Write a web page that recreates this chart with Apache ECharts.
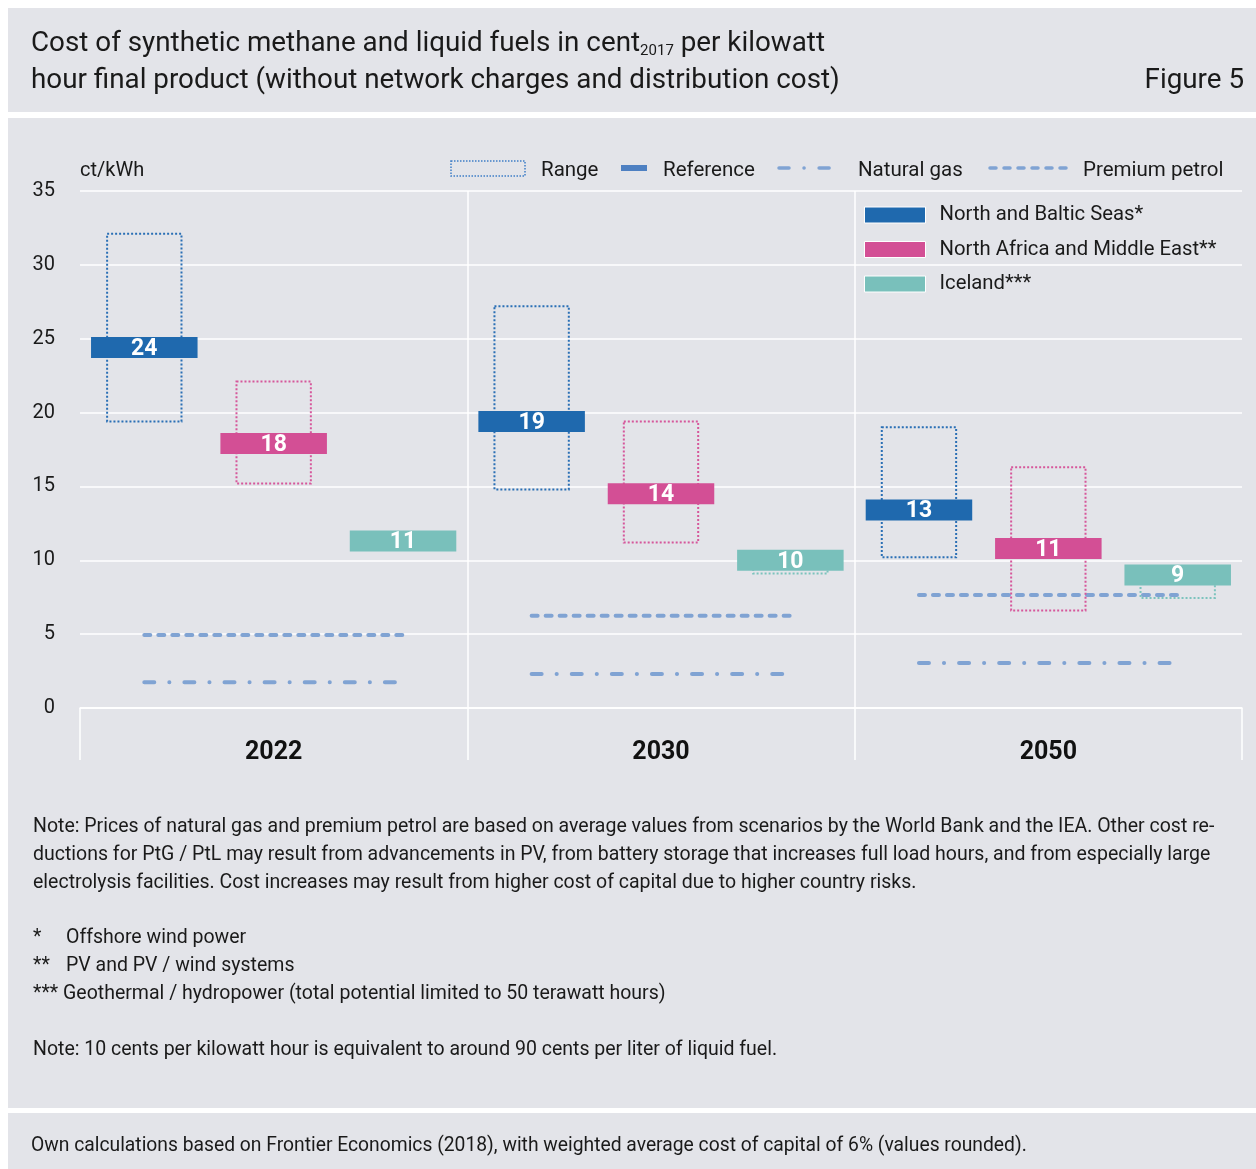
<!DOCTYPE html>
<html>
<head>
<meta charset="utf-8">
<script src="https://cdn.jsdelivr.net/npm/echarts@6/dist/echarts.min.js"></script>
<style>
  html, body { margin: 0; padding: 0; background: #fff; }
  .panel { position: absolute; background: #e3e4e9; }
  #main { position: absolute; left: 0; top: 0; width: 1256px; height: 1169px; }
</style>
</head>
<body>
<div class="panel" style="left:8px;top:8px;width:1248px;height:104px"></div>
<div class="panel" style="left:8px;top:118px;width:1248px;height:990px"></div>
<div class="panel" style="left:8px;top:1113px;width:1248px;height:56px"></div>
<div id="main"></div>
<script>
// data
var years = ['2022', '2030', '2050'];
var yTicks = [0, 5, 10, 15, 20, 25, 30, 35];

var northRef = [24.4, 19.4, 13.4];
var northLow = [19.4, 14.8, 10.2];
var northHigh = [32.1, 27.2, 19.0];
var northLabel = ['24', '19', '13'];

var menaRef = [17.9, 14.5, 10.8];
var menaLow = [15.2, 11.2, 6.6];
var menaHigh = [22.1, 19.4, 16.3];
var menaLabel = ['18', '14', '11'];

var icelandRef = [11.3, 10.0, 9.0];
var icelandLow = [10.9, 9.1, 7.45];
var icelandHigh = [11.7, 10.5, 9.5];
var icelandLabel = ['11', '10', '9'];

var petrol = [4.95, 6.25, 7.65];
var gas = [1.75, 2.3, 3.05];

var FONT = 'Roboto, "Noto Sans", sans-serif';
var lineColor = '#80a3d3';
var SLOT = 0.334;

var chart = echarts.init(document.getElementById('main'), null, { renderer: 'canvas' });

function regionSeries(name, color, rangeColor, slot, ref, low, high, labels) {
  return {
    name: name,
    type: 'custom',
    itemStyle: { color: color },
    data: years.map(function (y, i) { return [i, ref[i], low[i], high[i]]; }),
    encode: { x: 0, y: [1, 2, 3] },
    z: 5,
    renderItem: function (params, api) {
      var i = api.value(0);
      var c = api.coord([i, api.value(1)]);
      var bw = api.size([1, 0])[0];
      var cx = c[0] + slot * SLOT * bw;
      var yl = api.coord([i, api.value(2)])[1];
      var yh = api.coord([i, api.value(3)])[1];
      var rw = 0.192 * bw, barW = 0.275 * bw, barH = 21;
      return {
        type: 'group',
        children: [
          { type: 'rect', shape: { x: cx - rw / 2, y: yh, width: rw, height: yl - yh },
            style: { fill: 'none', stroke: rangeColor, lineWidth: 2, lineDash: [2, 2] } },
          { type: 'rect', shape: { x: cx - barW / 2, y: c[1] - barH / 2, width: barW, height: barH },
            style: { fill: color } },
          { type: 'text', x: cx, y: c[1] + 1.5,
            style: { text: labels[params.dataIndex], align: 'center', verticalAlign: 'middle',
              fill: '#fff', font: 'bold 23px ' + FONT } }
        ]
      };
    }
  };
}

function priceSeries(name, values, dash) {
  return {
    name: name,
    type: 'custom',
    z: 3,
    data: years.map(function (y, i) { return [i, values[i]]; }),
    encode: { x: 0, y: 1 },
    renderItem: function (params, api) {
      var i = api.value(0);
      var c = api.coord([i, api.value(1)]);
      var bw = api.size([1, 0])[0];
      return {
        type: 'line',
        shape: { x1: c[0] - SLOT * bw, y1: c[1], x2: c[0] + SLOT * bw, y2: c[1] },
        style: { stroke: lineColor, lineWidth: 4, lineDash: dash, lineCap: 'round' }
      };
    }
  };
}

var gasDash = [10, 15, 0.1, 15];
var petrolDash = [6, 8];

function txt(x, y, s, size, extra) {
  var o = { type: 'text', x: x, y: y + 1.5,
    style: { text: s, fill: '#1a1a1a', font: (size || 18) + 'px ' + FONT, verticalAlign: 'middle' } };
  if (extra) for (var k in extra) o.style[k] = extra[k];
  return o;
}

var notes = [
  'Note: Prices of natural gas and premium petrol are based on average values from scenarios by the World Bank and the IEA. Other cost re-',
  'ductions for PtG / PtL may result from advancements in PV, from battery storage that increases full load hours, and from especially large',
  'electrolysis facilities. Cost increases may result from higher cost of capital due to higher country risks.'
];

var graphics = [
  {
    type: 'text', x: 31, y: 44.5,
    style: {
      text: 'Cost of synthetic methane and liquid fuels in cent{sub|2017} per kilowatt',
      font: '27.8px ' + FONT, fill: '#1a1a1a', verticalAlign: 'middle',
      rich: { sub: { fontSize: 15, fontFamily: FONT, verticalAlign: 'bottom', lineHeight: 14, fill: '#1a1a1a' } }
    }
  },
  txt(31, 80, 'hour final product (without network charges and distribution cost)', 27.8),
  txt(1244, 80, 'Figure 5', 27.8, { align: 'right' }),
  // top legend
  { type: 'rect', shape: { x: 451, y: 161, width: 74, height: 15 },
    style: { fill: 'none', stroke: '#3f7dc6', lineWidth: 1.5, lineDash: [1.5, 1.5] } },
  txt(541, 169, 'Range', 20.5),
  { type: 'rect', shape: { x: 621, y: 165, width: 26, height: 6 }, style: { fill: '#4e80c2' } },
  txt(663, 169, 'Reference', 20.5),
  { type: 'line', shape: { x1: 779, y1: 168, x2: 843, y2: 168 },
    style: { stroke: lineColor, lineWidth: 3.5, lineDash: gasDash, lineCap: 'round' } },
  txt(858, 169, 'Natural gas', 20.5),
  { type: 'line', shape: { x1: 990, y1: 168, x2: 1066, y2: 168 },
    style: { stroke: lineColor, lineWidth: 3.5, lineDash: petrolDash, lineCap: 'round' } },
  txt(1083, 169, 'Premium petrol', 20.5),
  // notes
  txt(33, 826, notes[0], 19.5),
  txt(33, 854, notes[1], 19.5),
  txt(33, 882, notes[2], 19.5),
  txt(33, 937, '*', 19.5),
  txt(66, 937, 'Offshore wind power', 19.5),
  txt(33, 965, '**', 19.5),
  txt(66, 965, 'PV and PV / wind systems', 19.5),
  txt(33, 993, '*** Geothermal / hydropower (total potential limited to 50 terawatt hours)', 19.5),
  txt(33, 1049, 'Note: 10 cents per kilowatt hour is equivalent to around 90 cents per liter of liquid fuel.', 19.5),
  txt(31, 1145, 'Own calculations based on Frontier Economics (2018), with weighted average cost of capital of 6% (values rounded).', 19.3)
];

var option = {
  backgroundColor: 'transparent',
  animation: false,
  textStyle: { fontFamily: FONT },
  grid: { left: 80, right: 14, top: 191, height: 517 },
  legend: {
    data: ['North and Baltic Seas*', 'North Africa and Middle East**', 'Iceland***'],
    orient: 'vertical',
    left: 864, top: 205,
    itemWidth: 61, itemHeight: 16, itemGap: 14.5,
    icon: 'rect',
    padding: 0,
    itemStyle: { borderColor: '#fff', borderWidth: 1 },
    textStyle: { fontSize: 20.3, color: '#1a1a1a', fontFamily: FONT, padding: [2, 0, 0, 9] },
    selectedMode: false
  },
  xAxis: {
    type: 'category',
    data: years,
    boundaryGap: true,
    axisLine: { show: true, lineStyle: { color: '#fff', width: 1.5 } },
    axisTick: { show: true, length: 52, lineStyle: { color: '#fff', width: 1.5 } },
    axisLabel: { fontSize: 25, fontWeight: 'bold', color: '#111', margin: 32, fontFamily: FONT },
    splitLine: { show: true, showMinLine: false, showMaxLine: false, lineStyle: { color: '#fff', width: 1.5 } }
  },
  yAxis: {
    type: 'value',
    min: yTicks[0],
    max: yTicks[yTicks.length - 1],
    interval: 5,
    name: 'ct/kWh',
    nameLocation: 'end',
    nameGap: 10,
    nameTextStyle: { align: 'left', fontSize: 20, color: '#1a1a1a', fontFamily: FONT },
    axisLine: { show: false },
    axisTick: { show: false },
    axisLabel: { fontSize: 20, color: '#1a1a1a', margin: 25, fontFamily: FONT, padding: [4, 0, 0, 0] },
    splitLine: { show: true, lineStyle: { color: '#fff', width: 1.5 } }
  },
  graphic: graphics,
  series: [
    priceSeries('Premium petrol', petrol, petrolDash),
    priceSeries('Natural gas', gas, gasDash),
    regionSeries('North and Baltic Seas*', '#1f69ae', '#2a6fb5', -1, northRef, northLow, northHigh, northLabel),
    regionSeries('North Africa and Middle East**', '#d34f95', '#d6579b', 0, menaRef, menaLow, menaHigh, menaLabel),
    regionSeries('Iceland***', '#79c0bb', '#7cc3bd', 1, icelandRef, icelandLow, icelandHigh, icelandLabel)
  ]
};

chart.setOption(option);
</script>
</body>
</html>
